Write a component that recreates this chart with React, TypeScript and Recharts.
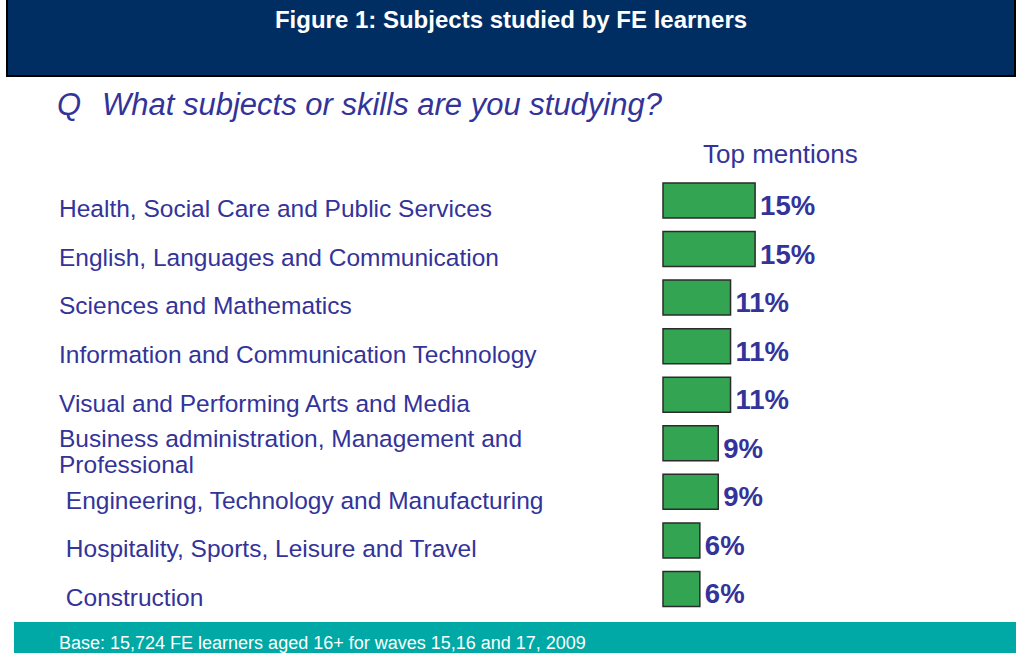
import { Bar, BarChart, LabelList, XAxis, YAxis } from "recharts";

const subjects = [
  "Health, Social Care and Public Services",
  "English, Languages and Communication",
  "Sciences and Mathematics",
  "Information and Communication Technology",
  "Visual and Performing Arts and Media",
  "Business administration, Management and\nProfessional",
  " Engineering, Technology and Manufacturing",
  " Hospitality, Sports, Leisure and Travel",
  " Construction",
];
const mentions = [15, 15, 11, 11, 11, 9, 9, 6, 6];

const data = subjects.map((name, i) => ({ name, pct: mentions[i] }));

const FONT = '"Liberation Sans", Arial, sans-serif';
const INK = "#333399";

function SubjectTick(props: any) {
  const { y, payload } = props;
  const lines = String(payload.value).split("\n");
  const lh = 26;
  const startY = y + 8 - ((lines.length - 1) * lh) / 2;
  return (
    <text
      x={59}
      y={startY}
      fill={INK}
      fontSize={24.5}
      fontFamily={FONT}
      textAnchor="start"
      dominantBaseline="central"
      style={{ whiteSpace: "pre" }}
    >
      {lines.map((l, i) => (
        <tspan key={i} x={59} y={startY + i * lh}>
          {l}
        </tspan>
      ))}
    </text>
  );
}

function PctLabel(props: any) {
  const { x, y, width, height, value } = props;
  return (
    <text
      x={x + width + 5}
      y={y + height / 2 + 5}
      fill={INK}
      fontSize={27.5}
      fontWeight="bold"
      fontFamily={FONT}
      dominantBaseline="central"
    >
      {value}%
    </text>
  );
}

export default function App() {
  return (
    <div
      style={{
        position: "absolute",
        left: 0,
        top: 0,
        width: 1016,
        height: 653,
        background: "#fff",
        overflow: "hidden",
        fontFamily: FONT,
      }}
    >
      <div
        style={{
          position: "absolute",
          left: 6,
          top: 0,
          width: 1006,
          height: 75,
          background: "#002E62",
          borderLeft: "2px solid #000",
          borderRight: "2px solid #000",
          borderBottom: "2px solid #000",
          color: "#fff",
          fontWeight: "bold",
          fontSize: 24,
          textAlign: "center",
          lineHeight: "40px",
        }}
      >
        Figure 1: Subjects studied by FE learners
      </div>
      <div
        style={{
          position: "absolute",
          left: 57,
          top: 87,
          fontSize: 31,
          lineHeight: "36px",
          fontStyle: "italic",
          color: INK,
        }}
      >
        Q
      </div>
      <div
        style={{
          position: "absolute",
          left: 102,
          top: 87,
          fontSize: 31,
          lineHeight: "36px",
          fontStyle: "italic",
          color: INK,
        }}
      >
        What subjects or skills are you studying?
      </div>
      <div
        style={{
          position: "absolute",
          left: 703,
          top: 139,
          fontSize: 26,
          lineHeight: "30px",
          color: INK,
        }}
      >
        Top mentions
      </div>
      <div style={{ position: "absolute", left: 0, top: 0 }}>
        <BarChart
          width={1016}
          height={653}
          data={data}
          layout="vertical"
          margin={{ top: 176, right: 46, bottom: 40, left: 59 }}
        >
          <XAxis type="number" domain={[0, 50]} hide />
          <YAxis
            type="category"
            dataKey="name"
            width={604}
            axisLine={false}
            tickLine={false}
            tick={<SubjectTick />}
            interval={0}
          />
          <Bar
            dataKey="pct"
            barSize={35}
            fill="#33A452"
            stroke="#2b2b2b"
            strokeWidth={1.5}
            isAnimationActive={false}
          >
            <LabelList dataKey="pct" content={<PctLabel />} />
          </Bar>
        </BarChart>
      </div>
      <div
        style={{
          position: "absolute",
          left: 14,
          top: 622,
          width: 1002,
          height: 31,
          background: "#00A9A5",
          color: "#fff",
          fontSize: 18,
          lineHeight: "42px",
          paddingLeft: 45,
          boxSizing: "border-box",
        }}
      >
        Base: 15,724 FE learners aged 16+ for waves 15,16 and 17, 2009
      </div>
    </div>
  );
}
